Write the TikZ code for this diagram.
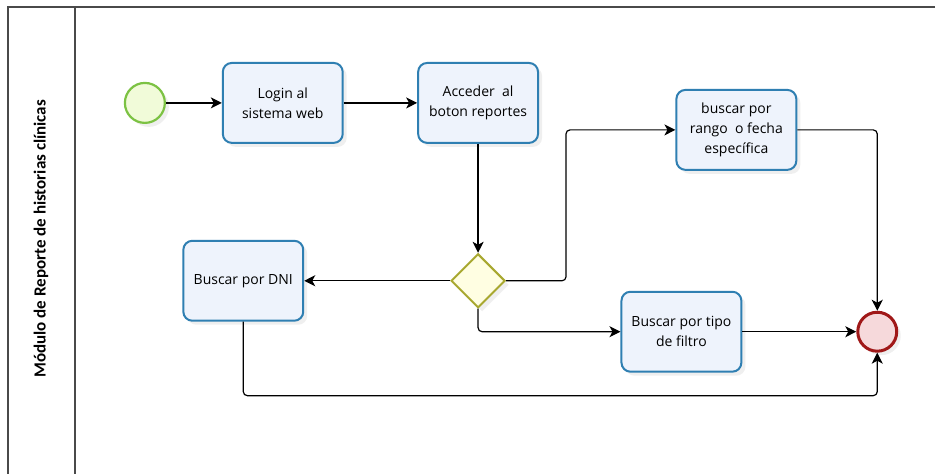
\documentclass[tikz,border=0pt]{standalone}
\usepackage{fontspec}
\setmainfont{Open Sans}
\newfontfamily\lanefont{Carlito}
\usetikzlibrary{arrows.meta,shapes.geometric,shadows}
\definecolor{taskblue}{HTML}{2F7FB2}
\definecolor{taskfill}{HTML}{EEF3FC}
\definecolor{startgreen}{HTML}{7CC243}
\definecolor{startfill}{HTML}{F1FBD9}
\definecolor{gateolive}{HTML}{A8A830}
\definecolor{gatefill}{HTML}{FFFEE2}
\definecolor{endred}{HTML}{A01818}
\definecolor{endfill}{HTML}{F6D9DB}
\definecolor{poolgray}{HTML}{4A4A4A}

\begin{document}
\begin{tikzpicture}[x=1pt,y=1pt,
	softshadow/.style={drop shadow={opacity=0.12,shadow xshift=4pt,shadow yshift=-4pt}},
	task/.style={shape=rectangle,rounded corners=9pt,draw=taskblue,fill=taskfill,line width=2pt,minimum width=120pt,minimum height=80pt,inner sep=2pt,align=center,font=\fontsize{14}{20}\selectfont,softshadow},
	startev/.style={shape=circle,draw=startgreen,fill=startfill,line width=2.2pt,minimum size=40pt,inner sep=0pt,softshadow},
	endev/.style={shape=circle,draw=endred,fill=endfill,line width=3pt,minimum size=39pt,inner sep=0pt,softshadow},
	gate/.style={shape=diamond,draw=gateolive,fill=gatefill,line width=2pt,minimum width=54pt,minimum height=54pt,inner sep=0pt,softshadow},
	flow/.style={line width=1.2pt,rounded corners=4pt,-{Stealth[length=11pt,width=11pt,inset=3pt]}},
	poolline/.style={draw=poolgray,line width=1.6pt}]
	\fill[white] (0,0) rectangle (936,474);

	\draw[poolline] (936,467) -- (8,467) -- (8,0);
	\draw[poolline] (75,467) -- (75,0);
	\node[rotate=90,font=\lanefont\bfseries\fontsize{17}{20}\selectfont] (lanename) at (41,235) {Módulo de Reporte de historias clínicas};

	\node[startev] (start) at (145,371) {};
	\node[task] (login) [node distance=138pt,right of=start] {Login al\\sistema web};
	\node[task] (acceder) [node distance=195.5pt,right of=login] {Acceder\ \ al\\boton reportes};
	\node[gate] (gw) [node distance=178pt,below of=acceder] {};
	\node[task] (dni) [node distance=235pt,left of=gw] {Buscar por DNI};
	\node[task] (rango) at (737,344) {buscar por\\rango\ \ o fecha\\específica};
	\node[task] (filtro) at (682,142) {Buscar por tipo\\de filtro};
	\node[endev] (end) at (878,142) {};

	\draw[flow] (start) -- (login);
	\draw[flow] (login) -- (acceder);
	\draw[flow] (acceder) -- (gw);
	\draw[flow] (gw) -- (dni);
	\draw[flow] (gw.east) -- ++(60,0) |- (rango);
	\draw[flow] (gw.south) |- (filtro);
	\draw[flow] (rango) -| (end);
	\draw[flow] (filtro) -- (end);
	\draw[flow] (dni.south) -- ++(0,-74) -| (end.south);
\end{tikzpicture}
\end{document}
